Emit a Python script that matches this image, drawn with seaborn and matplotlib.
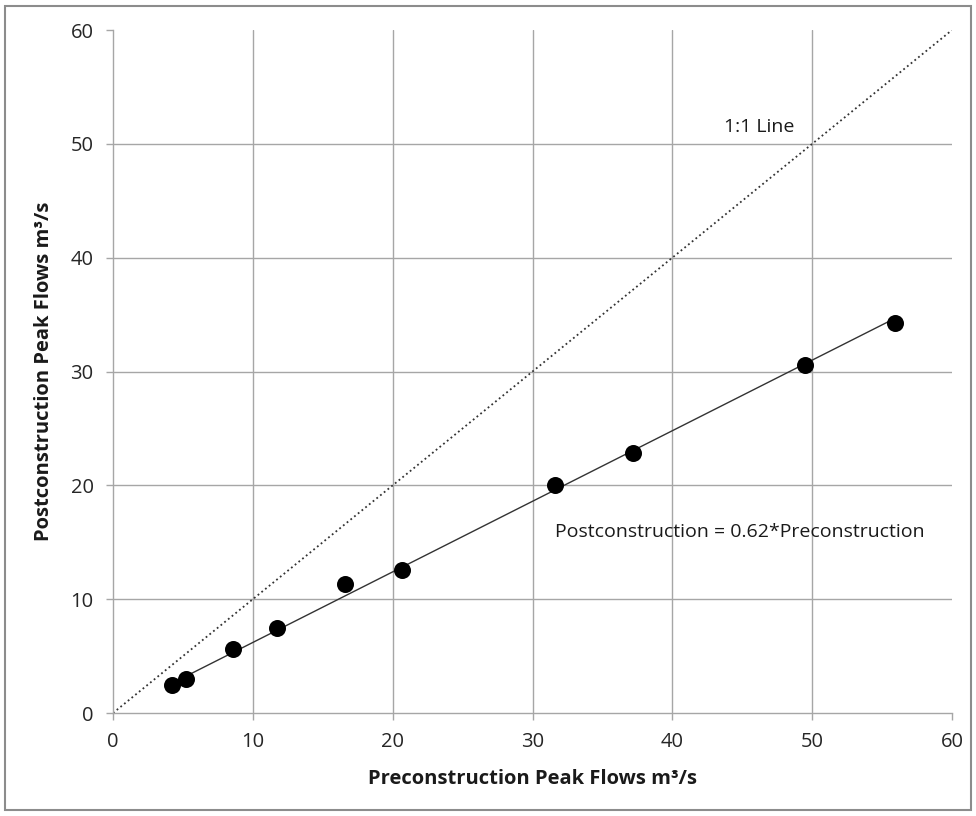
import numpy as np
import pandas as pd
import seaborn as sns
import matplotlib.pyplot as plt
from matplotlib.patches import Rectangle

# 数据
pre_flows = [4.2, 5.2, 8.6, 11.7, 16.6, 20.7, 31.6, 37.2, 49.5, 55.9]
post_flows = [2.5, 3.0, 5.6, 7.5, 11.3, 12.6, 20.0, 22.8, 30.6, 34.3]
slope = 0.62
axis_ticks = [0, 10, 20, 30, 40, 50, 60]

df = pd.DataFrame({"pre": pre_flows, "post": post_flows})

sns.set_theme(style="white")
plt.rcParams['font.family'] = ['Open Sans', 'DejaVu Sans']

fig = plt.figure(figsize=(9.76, 8.16), dpi=100)
ax = fig.add_axes([0.1158, 0.1262, 0.9754 - 0.1158, 0.9632 - 0.1262])

# 外框
fig.patches.append(Rectangle((0.005, 0.007), 0.99, 0.986, transform=fig.transFigure,
                             fill=False, edgecolor='#8c8c8c', linewidth=1.5))

# 网格线（只画 10~50）
for v in axis_ticks[1:-1]:
    ax.axvline(v, color='#a6a6a6', linewidth=1, zorder=0)
    ax.axhline(v, color='#a6a6a6', linewidth=1, zorder=0)

# 1:1 线
ax.plot([0, 60], [0, 60], linestyle=':', color='#333333', linewidth=1.3, zorder=1)

# 拟合线
fit = pd.DataFrame({"pre": [min(pre_flows), max(pre_flows)]})
fit["post"] = slope * fit["pre"]
sns.lineplot(x="pre", y="post", data=fit, color='#333333', linewidth=1, ax=ax, zorder=2)

# 散点
sns.scatterplot(x="pre", y="post", data=df, color='black', s=150, edgecolor='black',
                linewidth=0, ax=ax, zorder=3)

ax.set_xlim(0, 60)
ax.set_ylim(0, 60)
ax.set_xticks(axis_ticks)
ax.set_yticks(axis_ticks)
ax.tick_params(axis='both', labelsize=14.5, length=5, width=1,
               direction='out', bottom=True, left=True, pad=9, color='#a6a6a6',
               labelcolor='#262626')

for s in ['top', 'right']:
    ax.spines[s].set_visible(False)
for s in ['left', 'bottom']:
    ax.spines[s].set_color('#a6a6a6')
    ax.spines[s].set_linewidth(1)

ax.set_xlabel("Preconstruction Peak Flows m³/s", fontsize=14.5, fontweight='bold',
              labelpad=12, color='#1a1a1a')
ax.set_ylabel("Postconstruction Peak Flows m³/s", fontsize=14.5, fontweight='bold',
              labelpad=12, color='#1a1a1a')

ax.text(46.2, 51.5, "1:1 Line", fontsize=14, ha='center', va='center', color='#1a1a1a')
ax.text(31.6, 15.9, "Postconstruction = 0.62*Preconstruction", fontsize=14,
        ha='left', va='center', color='#1a1a1a')

plt.savefig("out.png", dpi=100)
